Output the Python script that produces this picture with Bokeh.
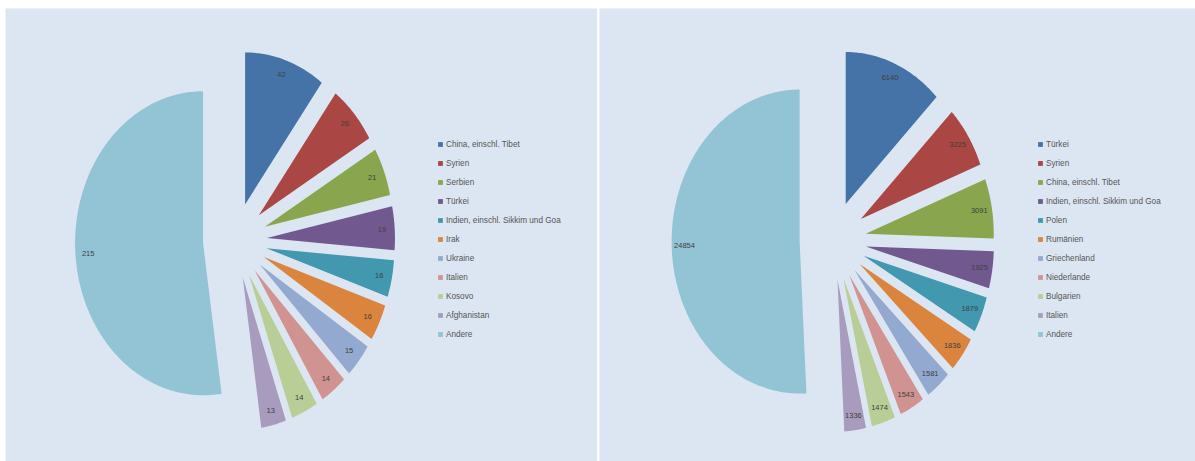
import numpy as np
from bokeh.plotting import figure
from bokeh.models import ColumnDataSource, Legend, LegendItem, Range1d
from bokeh.layouts import row
from bokeh.embed import file_html
from bokeh.resources import INLINE
from bokeh.core.properties import value

# ---------------- data ----------------
left_categories = ["China, einschl. Tibet", "Syrien", "Serbien", "Türkei",
                   "Indien, einschl. Sikkim und Goa", "Irak", "Ukraine",
                   "Italien", "Kosovo", "Afghanistan", "Andere"]
left_values = [42, 26, 21, 19, 16, 16, 15, 14, 14, 13, 215]

right_categories = ["Türkei", "Syrien", "China, einschl. Tibet",
                    "Indien, einschl. Sikkim und Goa", "Polen", "Rumänien",
                    "Griechenland", "Niederlande", "Bulgarien", "Italien", "Andere"]
right_values = [6140, 3225, 3091, 1925, 1879, 1836, 1581, 1543, 1474, 1336, 24854]

slice_colors = ["#4572A7", "#AA4643", "#89A54E", "#71588F", "#4198AF",
                "#DB843D", "#93A9CF", "#D19392", "#B9CD96", "#A99BBD", "#93C4D5"]

PANEL_BG = "#DCE6F2"
FONT = "Liberation Sans"
RX, RY = 128.0, 152.0      # pixel radii (horizontal / vertical)
FRAME_H = 453
CY_TOP = 232.0             # pie centre, px from frame top


def make_pie(categories, values, width, border_left, cx_px, legend_x, explode):
    frame_w = width - border_left
    p = figure(width=width, height=461,
               x_range=Range1d(-cx_px / RX, (frame_w - cx_px) / RX),
               y_range=Range1d(-(FRAME_H - CY_TOP) / RY, CY_TOP / RY),
               output_backend="svg", toolbar_location=None,
               min_border=0, min_border_left=border_left, min_border_top=8,
               min_border_right=0, min_border_bottom=0,
               background_fill_color=PANEL_BG, border_fill_color="white",
               outline_line_color=None)
    p.axis.visible = False
    p.grid.visible = False

    vals = np.array(values, dtype=float)
    frac = vals / vals.sum()
    ends = np.cumsum(frac) * 2 * np.pi
    starts = ends - frac * 2 * np.pi
    xs, ys, lx, ly = [], [], [], []
    for a0, a1 in zip(starts, ends):
        bis = 0.5 * (a0 + a1)
        ox, oy = explode * np.sin(bis), explode * np.cos(bis)
        n = max(6, int(np.degrees(a1 - a0) * 1.5))
        t = np.linspace(a0, a1, n)
        xs.append([ox] + list(ox + np.sin(t)))
        ys.append([oy] + list(oy + np.cos(t)))
        lx.append(ox + 0.9 * np.sin(bis))
        ly.append(oy + 0.9 * np.cos(bis))

    src = ColumnDataSource(dict(xs=xs, ys=ys, color=slice_colors, name=categories))
    r = p.patches("xs", "ys", source=src, fill_color="color", line_color=None)

    lsrc = ColumnDataSource(dict(x=lx, y=ly, text=[str(v) for v in values]))
    p.text("x", "y", text="text", source=lsrc, text_align="center",
           text_baseline="middle", text_font=value(FONT),
           text_font_size="7.5px", text_color="#404040")

    items = [LegendItem(label=c, renderers=[r], index=i) for i, c in enumerate(categories)]
    legend = Legend(items=items, location=(legend_x, 121),
                    glyph_width=6, glyph_height=6, label_standoff=3,
                    label_height=12, spacing=7, padding=0, margin=0,
                    label_text_font=FONT, label_text_font_size="8.2px",
                    label_text_color="#555555",
                    border_line_color=None, background_fill_alpha=0)
    p.add_layout(legend)
    return p


left = make_pie(left_categories, left_values, 597, 5, 229.5, 432, 0.25)
right = make_pie(right_categories, right_values, 598, 2, 233.4, 438, 0.26)

layout = row(left, right, spacing=0)
open("out.html", "w").write(file_html(layout, INLINE))
